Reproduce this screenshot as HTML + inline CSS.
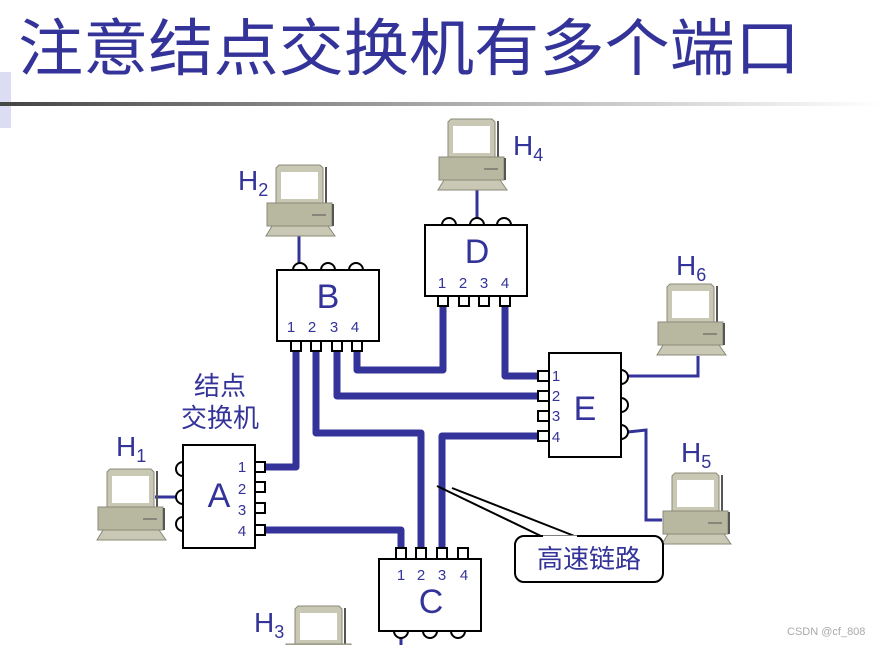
<!DOCTYPE html>
<html><head><meta charset="utf-8"><style>
html,body{margin:0;padding:0;background:#fff;}
svg{display:block;}
text{font-family:"Liberation Sans","Noto Sans CJK SC",sans-serif;fill:#333399;}
</style></head><body>
<svg width="882" height="645" viewBox="0 0 882 645" xmlns="http://www.w3.org/2000/svg">
<defs>
<linearGradient id="g" x1="0" x2="1"><stop offset="0" stop-color="#444"/><stop offset="0.5" stop-color="#aaa"/><stop offset="1" stop-color="#fff"/></linearGradient>
<g id="pc">
<path d="M0,3 L3,0 L44,0 L47,3 L47,38 L0,38 Z" fill="#c8c8b4" stroke="#8a8a78" stroke-width="1"/>
<rect x="49" y="2" width="2" height="36" fill="#555"/>
<rect x="5" y="7" width="37" height="27" fill="#fff"/>
<rect x="-9" y="38" width="65" height="23" fill="#b8b8a0" stroke="#8a8a78" stroke-width="1"/>
<rect x="56" y="39" width="2" height="22" fill="#555"/>
<line x1="36" y1="50" x2="50" y2="50" stroke="#555" stroke-width="1"/>
<path d="M-4,61 L52,61 L59,71 L-10,71 Z" fill="#c8c8b4" stroke="#8a8a78" stroke-width="1"/>
</g>
</defs>
<rect x="0" y="72" width="11" height="56" fill="#dcdcf4"/>
<rect x="0" y="102" width="882" height="4" fill="url(#g)"/>
<text x="18" y="70" font-size="62" textLength="782" lengthAdjust="spacingAndGlyphs" style="font-family:'Noto Sans CJK SC',sans-serif">注意结点交换机有多个端口</text>

<!-- thin links -->
<g stroke="#333399" stroke-width="3" fill="none">
<line x1="299" y1="236" x2="299" y2="264"/>
<line x1="477" y1="190" x2="477" y2="218"/>
<path d="M628,376 H698 V356"/>
<path d="M628,432 L646,430 V520 H662"/>
<line x1="155" y1="497" x2="176" y2="497"/>
<line x1="401" y1="637" x2="401" y2="645"/>
</g>
<!-- thick links -->
<g stroke="#333399" stroke-width="7" fill="none" stroke-linejoin="round">
<path d="M296,352 V467 H265"/>
<path d="M316,352 V433 H421 V548"/>
<path d="M337,352 V396 H538"/>
<path d="M357,352 V370 H443 V306"/>
<path d="M505,306 V376 H538"/>
<path d="M538,436 H442 V548"/>
<path d="M265,530 H401 V548"/>
</g>

<g stroke="#000" stroke-width="2" fill="#fff">
<circle cx="300" cy="270" r="7"/><circle cx="328" cy="270" r="7"/><circle cx="356" cy="270" r="7"/>
<rect x="277" y="270" width="102" height="71"/>
<rect x="291" y="341" width="10" height="10"/><rect x="311" y="341" width="10" height="10"/><rect x="332" y="341" width="10" height="10"/><rect x="352" y="341" width="10" height="10"/>
<circle cx="449" cy="225" r="7"/><circle cx="477" cy="225" r="7"/><circle cx="504" cy="225" r="7"/>
<rect x="425" y="225" width="102" height="71"/>
<rect x="438" y="296" width="10" height="10"/><rect x="459" y="296" width="10" height="10"/><rect x="479" y="296" width="10" height="10"/><rect x="500" y="296" width="10" height="10"/>
<circle cx="621" cy="377" r="7"/><circle cx="621" cy="405" r="7"/><circle cx="621" cy="432" r="7"/>
<rect x="549" y="353" width="72" height="104"/>
<rect x="538" y="371" width="11" height="10"/><rect x="538" y="391" width="11" height="10"/><rect x="538" y="411" width="11" height="10"/><rect x="538" y="431" width="11" height="10"/>
<circle cx="183" cy="469" r="7"/><circle cx="183" cy="497" r="7"/><circle cx="183" cy="524" r="7"/>
<rect x="183" y="445" width="72" height="103"/>
<rect x="255" y="462" width="10" height="10"/><rect x="255" y="482" width="10" height="10"/><rect x="255" y="503" width="10" height="10"/><rect x="255" y="525" width="10" height="10"/>
<circle cx="401" cy="631" r="7"/><circle cx="430" cy="631" r="7"/><circle cx="458" cy="631" r="7"/>
<rect x="379" y="559" width="102" height="72"/>
<rect x="396" y="548" width="10" height="11"/><rect x="416" y="548" width="10" height="11"/><rect x="437" y="548" width="10" height="11"/><rect x="458" y="548" width="10" height="11"/>
</g>

<use href="#pc" x="276" y="165"/>
<use href="#pc" x="448" y="119"/>
<use href="#pc" x="667" y="284"/>
<use href="#pc" x="672" y="473"/>
<use href="#pc" x="107" y="469"/>
<use href="#pc" x="295" y="606"/>

<g font-size="34" text-anchor="middle">
<text x="328" y="308">B</text><text x="477" y="263">D</text><text x="585" y="420">E</text><text x="219" y="507">A</text><text x="431" y="613">C</text>
</g>
<g font-size="15" text-anchor="middle">
<text x="291" y="332">1</text><text x="312" y="332">2</text><text x="334" y="332">3</text><text x="355" y="332">4</text>
<text x="442" y="288">1</text><text x="463" y="288">2</text><text x="484" y="288">3</text><text x="505" y="288">4</text>
<text x="401" y="580">1</text><text x="421" y="580">2</text><text x="442" y="580">3</text><text x="464" y="580">4</text>
<text x="242" y="472">1</text><text x="242" y="494">2</text><text x="242" y="515">3</text><text x="242" y="536">4</text>
<text x="556" y="381">1</text><text x="556" y="401">2</text><text x="556" y="421">3</text><text x="556" y="442">4</text>
</g>
<g font-size="28">
<text x="238" y="190">H<tspan font-size="18" dy="6">2</tspan></text>
<text x="513" y="155">H<tspan font-size="18" dy="6">4</tspan></text>
<text x="676" y="275">H<tspan font-size="18" dy="6">6</tspan></text>
<text x="681" y="462">H<tspan font-size="18" dy="6">5</tspan></text>
<text x="116" y="456">H<tspan font-size="18" dy="6">1</tspan></text>
<text x="254" y="632">H<tspan font-size="18" dy="6">3</tspan></text>
</g>
<text x="220" y="395" font-size="26" text-anchor="middle">结点</text>
<text x="220" y="427" font-size="26" text-anchor="middle">交换机</text>

<path d="M437,486 L543,537 M452,488 L577,537" stroke="#000" stroke-width="2" fill="none"/>
<rect x="515" y="536" width="148" height="46" rx="9" fill="#fff" stroke="#000" stroke-width="2"/>
<path d="M543,537 L577,537" stroke="#fff" stroke-width="3"/>
<text x="589" y="568" font-size="26" text-anchor="middle">高速链路</text>

<text x="787" y="635" font-size="11" style="fill:#aaa">CSDN @cf_808</text>
</svg>
</body></html>
